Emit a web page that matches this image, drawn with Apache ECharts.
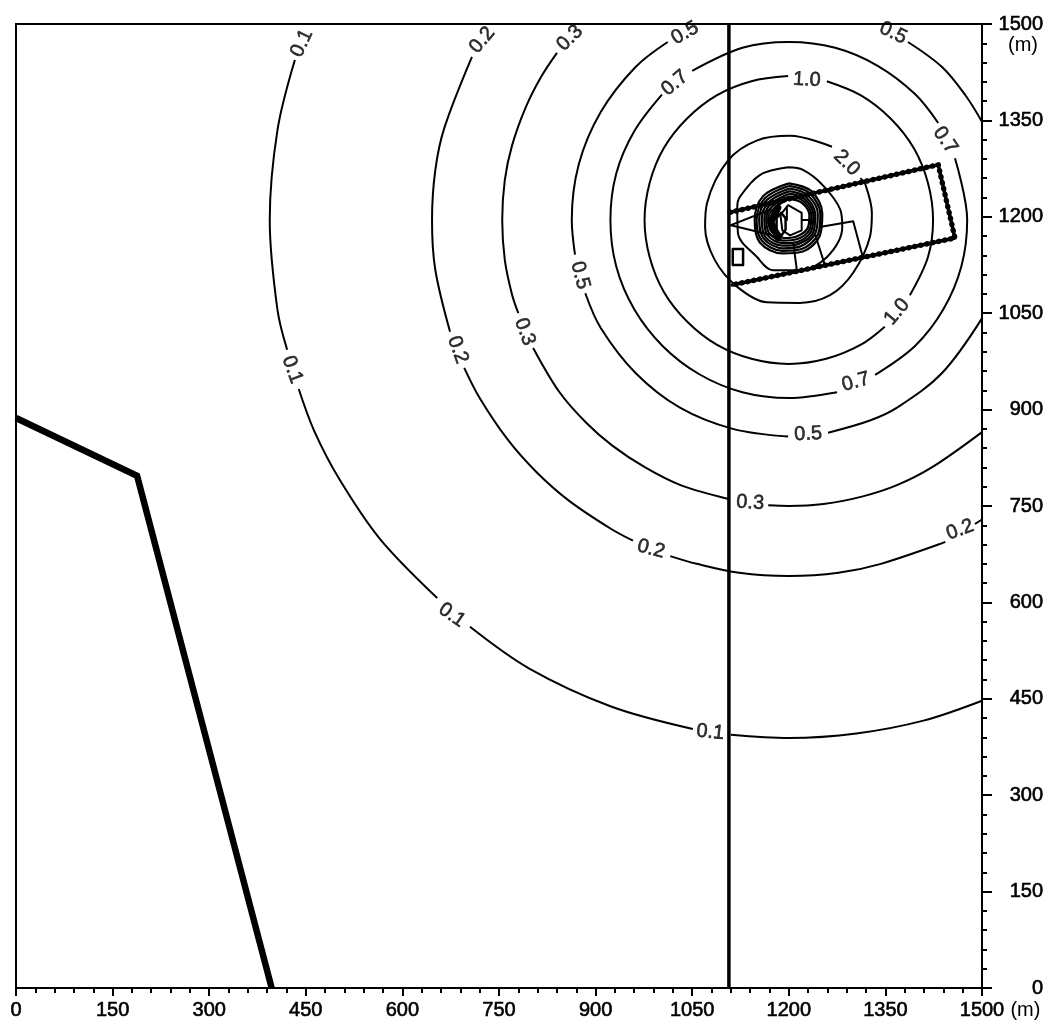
<!DOCTYPE html>
<html><head><meta charset="utf-8">
<style>html,body{margin:0;padding:0;background:#fff}#c{width:1050px;height:1021px}</style>
<script src="https://cdn.jsdelivr.net/npm/echarts@6/dist/echarts.min.js"></script>
</head><body><div id="c"></div>
<script>
const tickValues = [0,150,300,450,600,750,900,1050,1200,1350,1500];

// contour segments (x m, y m), broken where the inline labels sit
const contour01 = [
 [[433,1444],[406,1335],[394,1195],[406,1055],[421,993]],
 [[439,932],[463,867],[502,792],[565,699],[654,607]],
 [[705,562],[797,497],[924,438],[1051,403]],
 [[1110,394],[1200,389],[1305,396],[1409,416],[1500,447]]
];
const contour02 = [
 [[708,1449],[665,1338],[651,1272],[646,1195],[651,1118],[674,1021]],
 [[696,965],[720,918],[763,854],[808,803],[859,758],[923,715],[958,696]],
 [[1016,672],[1057,660],[1123,646],[1200,641],[1277,646],[1343,660],[1443,694]],
 [[1489,722],[1500,729]]
];
const contour03 = [
 [[840,1455],[815,1417],[791,1369],[770,1310],[759,1257],[755,1195],[759,1133],[770,1080],[780,1050]],
 [[803,996],[844,927],[885,880],[926,844],[977,810],[1033,782],[1106,761]],
 [[1168,751],[1200,750],[1254,753],[1315,765],[1367,782],[1422,810],[1500,865]]
];
const contour05 = [
 [[1012,1472],[962,1433],[908,1363],[874,1282],[863,1195],[868,1141]],
 [[884,1081],[908,1027],[962,957],[1031,903],[1113,870],[1199,858]],
 [[1261,864],[1326,883],[1368,903],[1438,957],[1500,1042]],
 [[1385,1472],[1438,1433],[1475,1388],[1500,1348]]
];
const contour07 = [
 [[1050,1427],[1128,1463],[1200,1472],[1272,1463],[1338,1435],[1396,1391],[1432,1346]],
 [[1458,1291],[1477,1195],[1468,1123],[1440,1056],[1396,999],[1334,954]],
 [[1275,927],[1200,918],[1128,927],[1061,955],[1004,999],[960,1056],[932,1123],[923,1195],[932,1267],[960,1333],[1003,1390]]
];
const contour10 = [
 [[1199,1419],[1142,1411],[1088,1389],[1042,1353],[1006,1307],[984,1253],[976,1195],[984,1137],[1006,1083],[1042,1037],[1088,1001],[1142,979],[1200,971],[1258,979],[1312,1001],[1349,1029]],
 [[1388,1078],[1416,1137],[1424,1195],[1416,1253],[1394,1307],[1358,1353],[1312,1389],[1259,1411]]
];
const contour20 = [
 [[1267,1309],[1202,1326],[1151,1319],[1106,1288],[1073,1221],[1070,1184],[1085,1133],[1120,1091],[1166,1067],[1217,1066],[1264,1078],[1300,1113],[1326,1169],[1329,1206],[1318,1253],[1311,1260]]
];
const contour30 = [
 [[1199,1277],[1155,1265],[1124,1231],[1120,1215],[1121,1175],[1151,1137],[1175,1117],[1217,1117],[1259,1137],[1283,1184],[1280,1211],[1253,1249],[1222,1273],[1199,1277]]
];
const innerRings = [
 [[1200,1252],[1235,1240],[1252,1205],[1248,1170],[1222,1146],[1190,1143],[1155,1160],[1147,1195],[1160,1232],[1200,1252]],
 [[1200,1248],[1232,1237],[1249,1204],[1245,1172],[1220,1150],[1190,1147],[1158,1163],[1150,1195],[1163,1229],[1200,1248]],
 [[1201,1244],[1229,1234],[1245,1204],[1241,1174],[1218,1154],[1191,1151],[1161,1166],[1154,1196],[1166,1226],[1201,1244]],
 [[1201,1240],[1226,1231],[1241,1203],[1238,1176],[1216,1158],[1191,1155],[1164,1168],[1158,1196],[1169,1223],[1201,1240]],
 [[1201,1236],[1224,1228],[1238,1203],[1235,1178],[1214,1161],[1192,1159],[1167,1171],[1162,1197],[1172,1220],[1201,1236]],
 [[1201,1232],[1222,1225],[1235,1202],[1232,1180],[1212,1165],[1192,1163],[1170,1174],[1165,1197],[1175,1217],[1201,1232]],
 [[1201,1228],[1220,1222],[1232,1202],[1229,1182],[1211,1169],[1193,1167],[1173,1177],[1168,1198],[1178,1214],[1201,1228]]
];
const innerHexagon = [[1199,1218],[1220,1206],[1220,1179],[1202,1171],[1190,1179],[1187,1203],[1199,1218]];
const innerHexagon2 = [[1188,1206],[1195,1198],[1195,1180],[1188,1170],[1181,1180],[1181,1198],[1188,1206]];
const innerBlob = [[1183,1214],[1172,1192],[1183,1168]];
const innerTick1 = [[1197,1214],[1197,1195]];
const innerTick2 = [[1222,1195],[1233,1195]];

// site and surroundings
const siteBoundary = [[1109,1207],[1432,1281],[1458,1167],[1112,1094]];
const roadLine = [[0,887],[188,797],[397,0]];
const boundaryLine = [[1107,0],[1107,1500]];
const smallBuilding = [[1113,1150],[1129,1150],[1129,1125],[1113,1125],[1113,1150]];
const innerTriangle = [[1171,1211],[1110,1187],[1171,1172]];
const innerLineA = [[1207,1159],[1213,1113]];
const innerLineB = [[1248,1184],[1300,1193],[1315,1137]];
const innerLineC = [[1241,1172],[1256,1125]];

// inline contour labels: x, y, text, rotation
const contourLabels = [
 [444,1470,'0.1',65],[429,962,'0.1',-70],[677,580,'0.1',-35],[1078,398,'0.1',-5],
 [724,1475,'0.2',50],[686,993,'0.2',-70],[986,683,'0.2',-15],[1466,713,'0.2',20],
 [860,1478,'0.3',45],[790,1021,'0.3',-70],[1140,755,'0.3',-3],
 [1039,1486,'0.5',30],[876,1109,'0.5',-75],[1230,862,'0.5',3],[1362,1486,'0.5',-25],
 [1023,1408,'0.7',40],[1443,1319,'0.7',-55],[1304,943,'0.7',15],
 [1228,1413,'1.0',-3],[1368,1052,'1.0',50],
 [1290,1284,'2.0',-45]
];

const FONT = '"Liberation Sans"';
const thin = (data, w) => ({type:'line',data,smooth:0.34,showSymbol:false,symbol:'none',silent:true,
  lineStyle:{color:'#000',width:w||2},z:3});
const straight = (data, w, extra) => ({type:'line',data,smooth:false,showSymbol:false,symbol:'none',silent:true,
  lineStyle:Object.assign({color:'#000',width:w||2,join:'round',cap:'round'},extra||{}),z:4});

const series = [];
[contour01,contour02,contour03,contour05,contour07,contour10,contour20,contour30]
  .forEach(group => group.forEach(seg => series.push(thin(seg,2))));
innerRings.forEach(seg => series.push(thin(seg,2.2)));
series.push(straight(innerHexagon,2), straight(innerHexagon2,2.5), straight(innerBlob,7),
  straight(innerTick1,2), straight(innerTick2,2));
series.push(straight(roadLine,6.5,{cap:'butt',join:'miter'}));
series.push(straight(boundaryLine,3.5,{cap:'butt'}));
series.push(straight(siteBoundary,3.5));
series.push(straight(siteBoundary,5.5,{type:[0.1,6]}));
series.push(straight(smallBuilding,2.5), straight(innerTriangle,2),
  straight(innerLineA,2), straight(innerLineB,2), straight(innerLineC,2));
series.push({type:'scatter',symbolSize:0,silent:true,z:6,clip:false,
  data:contourLabels.map(d=>({value:[d[0],d[1]],
    label:{show:true,position:'inside',formatter:d[2],rotate:d[3],fontFamily:FONT,fontSize:20,color:'#000',
      textBorderColor:'#000',textBorderWidth:0.6,align:'center',verticalAlign:'middle'}}))});

const axisCommon = {type:'value',min:0,max:1500,interval:150,splitLine:{show:false},
  axisLine:{show:true,onZero:false,lineStyle:{color:'#000',width:2}},
  minorTick:{show:true,splitNumber:5,length:5,lineStyle:{color:'#000',width:2}},
  minorSplitLine:{show:false}};
const tickText = {fontFamily:FONT,fontSize:20,color:'#000',textBorderColor:'#000',textBorderWidth:0.6,
  hideOverlap:false,showMinLabel:true,showMaxLabel:true,customValues:tickValues,formatter:v=>String(v)};

const chart = echarts.init(document.getElementById('c'),null,{renderer:'canvas'});
chart.setOption({
  animation:false,backgroundColor:'#fff',
  grid:{left:16,right:68,top:24,bottom:33,show:true,borderColor:'#000',borderWidth:2,backgroundColor:'transparent',outerBoundsMode:'none'},
  xAxis:Object.assign({},axisCommon,{position:'bottom',
    axisTick:{show:true,length:8,lineStyle:{color:'#000',width:2}},
    axisLabel:Object.assign({show:true,margin:12},tickText),
    name:'(m)',nameLocation:'end',nameGap:27,
    nameTextStyle:{fontFamily:FONT,fontSize:20,color:'#000',verticalAlign:'top',padding:[12,0,0,0]}}),
  yAxis:Object.assign({},axisCommon,{position:'right',
    axisTick:{show:true,length:10,lineStyle:{color:'#000',width:2}},
    axisLabel:Object.assign({show:true,margin:61,align:'right'},tickText)}),
  graphic:[{type:'text',x:1023,y:45,silent:true,style:{text:'(m)',x:0,y:0,align:'center',verticalAlign:'middle',
    font:'20px '+FONT,fill:'#000'}}],
  series
});
</script></body></html>
